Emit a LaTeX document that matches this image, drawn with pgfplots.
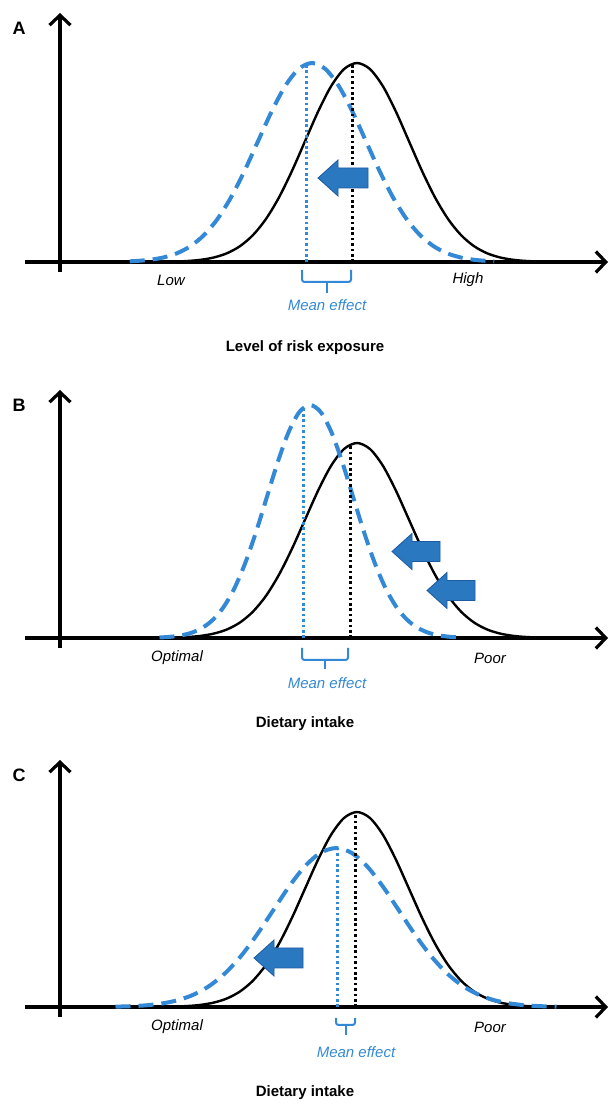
\documentclass[border=0pt]{standalone}
\usepackage{fontspec}
\setmainfont{Liberation Sans}
\usepackage{pgfplots}
\pgfplotsset{compat=1.18}
\usepackage{pgfplotstable}
\usetikzlibrary{arrows.meta}

\definecolor{curveblue}{RGB}{52,137,214}
\definecolor{arrowfill}{RGB}{42,120,192}
\definecolor{arrowedge}{RGB}{30,90,160}

% black reference distribution (same in all panels, peak = 1)
\pgfplotstableread{
x y
115 0.0022
128 0.0051
141 0.0111
154 0.0228
167 0.0439
180 0.0796
193 0.1353
206 0.2163
219 0.3247
232 0.4578
245 0.6065
258 0.7548
271 0.8825
284 0.9692
297 1.0000
310 0.9692
323 0.8825
336 0.7548
349 0.6065
362 0.4578
375 0.3247
388 0.2163
401 0.1353
414 0.0796
427 0.0439
440 0.0228
453 0.0111
466 0.0051
479 0.0022
}\blackcurve

% panel A: shifted distribution
\pgfplotstableread{
x y
69.75 0.0034
76.5 0.0051
90 0.0111
103.5 0.0228
117 0.0439
130.5 0.0796
144 0.1353
157.5 0.2163
171 0.3247
184.5 0.4578
198 0.6065
211.5 0.7548
225 0.8825
238.5 0.9692
252 1.0000
265.5 0.9692
279 0.8825
292.5 0.7548
306 0.6065
319.5 0.4578
333 0.3247
346.5 0.2163
360 0.1353
373.5 0.0796
387 0.0439
400.5 0.0228
414 0.0111
427.5 0.0051
434.25 0.0034
}\bluea

% panel B: shifted and narrowed
\pgfplotstableread{
x y
99.5 0.0026
110.25 0.0061
121 0.0133
131.75 0.0272
142.5 0.0525
153.25 0.0951
164 0.1617
174.75 0.2585
185.5 0.3880
196.25 0.5471
207 0.7248
217.75 0.9020
228.5 1.0546
239.25 1.1582
250 1.1950
260.75 1.1582
271.5 1.0546
282.25 0.9020
293 0.7248
303.75 0.5471
314.5 0.3880
325.25 0.2585
336 0.1617
346.75 0.0951
357.5 0.0525
368.25 0.0272
379 0.0133
389.75 0.0061
400.5 0.0026
}\blueb

% panel C: slightly shifted and widened
\pgfplotstableread{
x y
55.5 0.0018
71.25 0.0042
87 0.0090
102.75 0.0186
118.5 0.0358
134.25 0.0649
150 0.1103
165.75 0.1763
181.5 0.2646
197.25 0.3731
213 0.4943
228.75 0.6152
244.5 0.7192
260.25 0.7899
276 0.8150
291.75 0.7899
307.5 0.7192
323.25 0.6152
339 0.4943
354.75 0.3731
370.5 0.2646
386.25 0.1763
402 0.1103
417.75 0.0649
433.5 0.0358
449.25 0.0186
465 0.0090
480.75 0.0042
496.5 0.0018
}\bluec

\pgfplotsset{
  panel/.style={
    axis lines=middle,
    axis line style={line width=3.2pt, -{Straight Barb[length=10pt,width=21pt]}},
    ticks=none, scale only axis, clip=false,
    xmin=-35, xmax=548, width=583pt,
    anchor=south west,
  },
  blk/.style={black, line width=2.4pt, smooth},
  blu/.style={curveblue, line width=4pt, smooth, dash pattern=on 15pt off 8pt},
  bdot/.style={black, line width=3pt, dash pattern=on 2.6pt off 2.8pt},
  udot/.style={curveblue, line width=3pt, dash pattern=on 2.6pt off 2.8pt},
}

\newcommand{\blockarrow}[3]{% tip x, centre y, back x
  \filldraw[fill=arrowfill, draw=arrowedge, line width=0.8pt]
    (#1pt,#2pt) -- ++(20pt,18pt) -- ++(0pt,-8pt) -- (#3pt,#2pt+10pt)
    -- (#3pt,#2pt-10pt) -- (#1pt+20pt,#2pt-10pt) -- ++(0pt,-8pt) -- cycle;}
\newcommand{\meanbrace}[5]{% left x, right x, top y, bottom y, stem end y
  \draw[curveblue, line width=2pt, rounded corners=2.5pt]
    (#1pt,#3pt) -- (#1pt,#4pt) -- (#2pt,#4pt) -- (#2pt,#3pt);
  \draw[curveblue, line width=2pt] ({(#1+#2)/2*1pt},#4pt) -- ({(#1+#2)/2*1pt},#5pt);}

\tikzset{
  plab/.style={font=\fontsize{18}{20}\selectfont\bfseries},
  xlab/.style={font=\fontsize{15}{18}\selectfont\itshape},
  mlab/.style={font=\fontsize{15}{18}\selectfont\itshape, text=curveblue},
  ttl/.style={font=\fontsize{15}{18}\selectfont\bfseries},
}

\begin{document}
\begin{tikzpicture}
\useasboundingbox (0,0) rectangle (611pt,1104pt);

% ---------------- A ----------------
\begin{axis}[panel, at={(25pt,832pt)}, ymin=-0.0503, ymax=1.2513, height=259pt]
  \addplot[blk] table {\blackcurve};
  \addplot[blu] table {\bluea};
  \addplot[bdot] coordinates {(292,0) (292,0.998)};
  \addplot[udot] coordinates {(246,0) (246,0.994)};
\end{axis}
\blockarrow{318}{926}{368}
\meanbrace{302}{351}{834}{822}{811}
\node[plab] at (19pt,1076pt) {A};
\node[xlab] at (171pt,824pt) {Low};
\node[xlab] at (468pt,824pt) {High};
\node[mlab] at (327pt,799pt) {Mean effect};
\node[ttl] at (305pt,756pt) {Level of risk exposure};

% ---------------- B ----------------
\begin{axis}[panel, at={(25pt,456pt)}, ymin=-0.0513, ymax=1.2718, height=258pt]
  \addplot[blk] table {\blackcurve};
  \addplot[blu] table {\blueb};
  \addplot[bdot] coordinates {(290,0) (290,0.991)};
  \addplot[udot] coordinates {(243,0) (243,1.179)};
\end{axis}
\blockarrow{392}{552.5}{440}
\blockarrow{427}{513.5}{475}
\meanbrace{302}{348}{456}{444}{435}
\node[plab] at (19pt,699pt) {B};
\node[xlab] at (177pt,446pt) {Optimal};
\node[xlab] at (490pt,446pt) {Poor};
\node[mlab] at (327pt,421pt) {Mean effect};
\node[ttl] at (305pt,380pt) {Dietary intake};

% ---------------- C ----------------
\begin{axis}[panel, at={(25pt,87pt)}, ymin=-0.0513, ymax=1.2667, height=257pt]
  \addplot[blk] table {\blackcurve};
  \addplot[blu] table {\bluec};
  \addplot[bdot] coordinates {(295,0) (295,0.999)};
  \addplot[udot] coordinates {(277,0) (277,0.815)};
\end{axis}
\blockarrow{254}{146}{303}
\meanbrace{336}{355}{86}{79}{69}
\node[plab] at (19pt,329pt) {C};
\node[xlab] at (177pt,77pt) {Optimal};
\node[xlab] at (490pt,77pt) {Poor};
\node[mlab] at (356pt,52pt) {Mean effect};
\node[ttl] at (305pt,11pt) {Dietary intake};
\end{tikzpicture}
\end{document}
